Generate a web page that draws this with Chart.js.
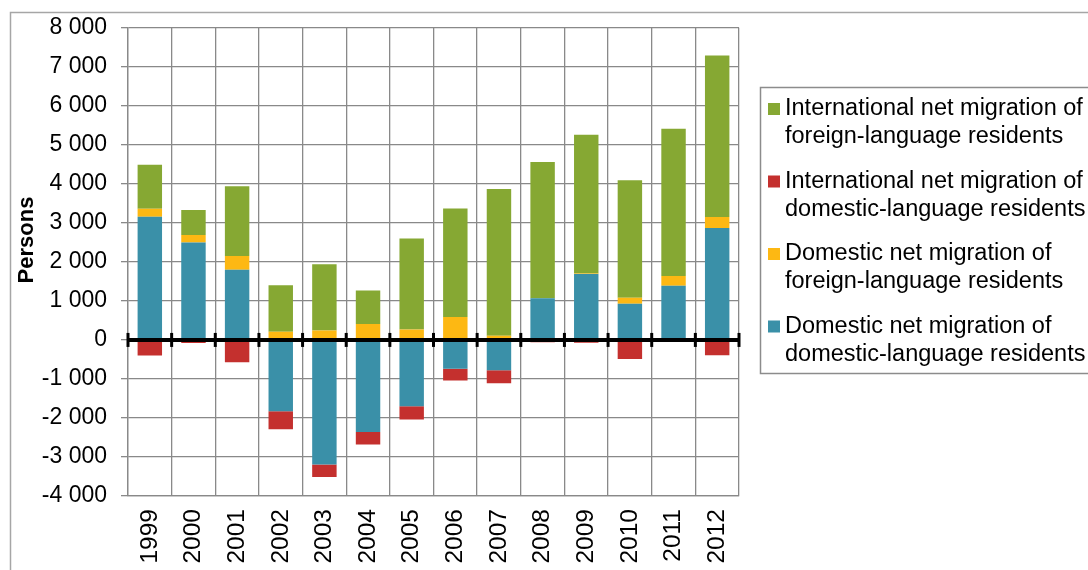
<!DOCTYPE html>
<html>
<head>
<meta charset="utf-8">
<script src="https://cdn.jsdelivr.net/npm/chart.js@4/dist/chart.umd.min.js"></script>
<style>
    body { margin: 0; background: #fff; }
    #wrap { width: 1088px; height: 570px; }
</style>
</head>
<body>
<div id="wrap"><canvas id="migration-chart" width="1088" height="570"></canvas></div>
<script>
var years = ['1999', '2000', '2001', '2002', '2003', '2004', '2005', '2006', '2007', '2008', '2009', '2010', '2011', '2012'];

// Domestic net migration of domestic-language residents
var dom_dom = [3160, 2500, 1800, -1830, -3190, -2360, -1700, -740, -780, 1070, 1690, 930, 1390, 2870];
// Domestic net migration of foreign-language residents
var dom_for = [200, 190, 350, 210, 240, 410, 270, 590, 110, 0, 10, 150, 250, 280];
// International net migration of foreign-language residents
var int_for = [1130, 640, 1790, 1190, 1700, 860, 2330, 2780, 3760, 3490, 3560, 3010, 3770, 4140];
// International net migration of domestic-language residents
var int_dom = [-400, -80, -570, -460, -320, -320, -340, -300, -330, -60, -70, -490, 0, -390];

var y_ticks = [-4000, -3000, -2000, -1000, 0, 1000, 2000, 3000, 4000, 5000, 6000, 7000, 8000];

var FONT = "'Liberation Sans', Arial, sans-serif";
var GRID = '#898989';

format_number = function (v) {
    var s = String(Math.abs(v)).replace(/\B(?=(\d{3})+(?!\d))/g, ' ');
    return (v < 0 ? '-' : '') + s;
}

// legend order as in the picture (top to bottom)
var legend_order = [2, 3, 1, 0];
var legend_lines = [
    ['Domestic net migration of', 'domestic-language residents'],
    ['Domestic net migration of', 'foreign-language residents'],
    ['International net migration of', 'foreign-language residents'],
    ['International net migration of', 'domestic-language residents']
];

var extras = {
    id: 'extras',
    beforeDraw: function (chart) {
        var ctx = chart.ctx;
        ctx.save();
        ctx.fillStyle = '#fff';
        ctx.fillRect(0, 0, chart.width, chart.height);
        ctx.strokeStyle = '#a6a6a6';
        ctx.lineWidth = 1.5;
        ctx.strokeRect(10.5, 12.5, 2000, 2000);
        ctx.restore();
    },
    afterDatasetsDraw: function (chart) {
        var ctx = chart.ctx;
        var area = chart.chartArea;
        var y0 = chart.scales.y.getPixelForValue(0);
        var n = years.length;
        ctx.save();
        ctx.strokeStyle = '#000';
        ctx.lineWidth = 4;
        ctx.beginPath();
        ctx.moveTo(area.left, y0);
        ctx.lineTo(area.right, y0);
        ctx.stroke();
        ctx.lineWidth = 3;
        for (var i = 0; i <= n; i++) {
            var x = area.left + i * (area.right - area.left) / n;
            ctx.beginPath();
            ctx.moveTo(x, y0 - 7);
            ctx.lineTo(x, y0 + 7);
            ctx.stroke();
        }
        ctx.restore();
    },
    afterDraw: function (chart) {
        var ctx = chart.ctx;
        ctx.save();
        // y title
        ctx.translate(27, 240);
        ctx.rotate(-Math.PI / 2);
        ctx.font = 'bold 22px ' + FONT;
        ctx.fillStyle = '#000';
        ctx.textAlign = 'center';
        ctx.textBaseline = 'middle';
        ctx.fillText('Persons', 0, 0);
        ctx.restore();

        // legend
        ctx.save();
        ctx.strokeStyle = '#8c8c8c';
        ctx.lineWidth = 1.5;
        ctx.strokeRect(760.5, 87.5, 400, 286);
        ctx.font = '23.5px ' + FONT;
        ctx.textBaseline = 'middle';
        ctx.textAlign = 'left';
        for (var i = 0; i < legend_order.length; i++) {
            var ds = chart.data.datasets[legend_order[i]];
            var lines = legend_lines[legend_order[i]];
            var cy = 109 + i * 72.5;
            ctx.fillStyle = ds.backgroundColor;
            ctx.fillRect(768, cy - 6, 12, 12);
            ctx.fillStyle = '#000';
            ctx.fillText(lines[0], 785, cy);
            ctx.fillText(lines[1], 785, cy + 28);
        }
        ctx.restore();
    }
};

var chart = new Chart(document.getElementById('migration-chart'), {
    type: 'bar',
    data: {
        labels: years,
        datasets: [
            {
                label: 'Domestic net migration of domestic-language residents',
                data: dom_dom,
                backgroundColor: '#3a90a8'
            },
            {
                label: 'Domestic net migration of foreign-language residents',
                data: dom_for,
                backgroundColor: '#fdb813'
            },
            {
                label: 'International net migration of foreign-language residents',
                data: int_for,
                backgroundColor: '#86a833'
            },
            {
                label: 'International net migration of domestic-language residents',
                data: int_dom,
                backgroundColor: '#c4302e'
            }
        ]
    },
    options: {
        responsive: false,
        animation: false,
        devicePixelRatio: 1,
        categoryPercentage: 1,
        barPercentage: 0.56,
        layout: {
            padding: { left: 0, top: 27, right: 349, bottom: 0 }
        },
        plugins: {
            legend: { display: false },
            tooltip: { enabled: false }
        },
        scales: {
            x: {
                stacked: true,
                grid: { color: GRID, lineWidth: 1.3, drawTicks: false, offset: true },
                border: { color: GRID, width: 1.3 },
                ticks: {
                    color: '#000',
                    font: { family: FONT, size: 24.5 },
                    minRotation: 90,
                    maxRotation: 90,
                    padding: 13
                },
                afterFit: function (scale) { scale.height = 74; }
            },
            y: {
                stacked: true,
                min: -4000,
                max: 8000,
                afterBuildTicks: function (scale) {
                    scale.ticks = y_ticks.map(function (v) { return { value: v }; });
                },
                grid: { color: GRID, lineWidth: 1.3, tickLength: 7 },
                border: { color: GRID, width: 1.3 },
                ticks: {
                    color: '#000',
                    font: { family: FONT, size: 23 },
                    padding: 14,
                    callback: function (v) { return format_number(v); }
                },
                afterFit: function (scale) { scale.width = 128; }
            }
        }
    },
    plugins: [extras]
});
</script>
</body>
</html>
